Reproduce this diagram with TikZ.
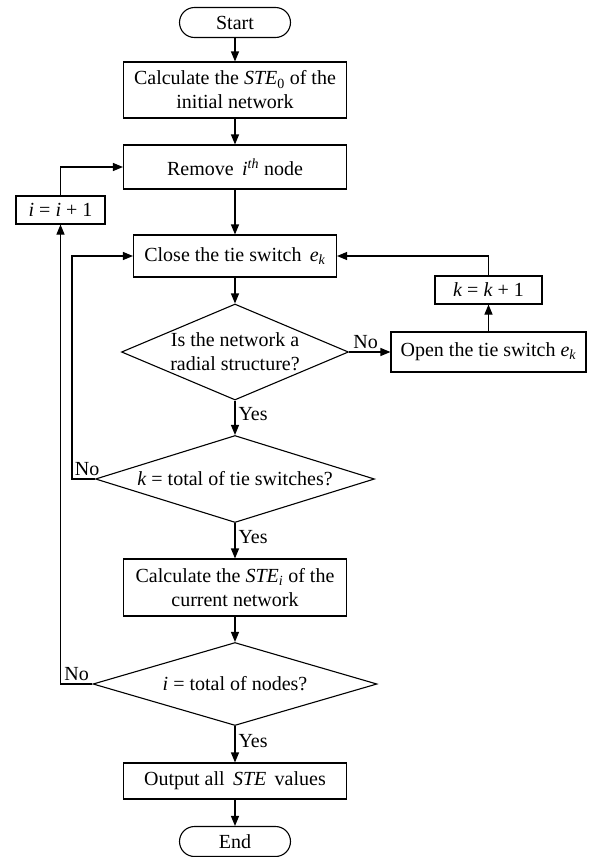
\documentclass[tikz,border=0pt]{standalone}
\usepackage{fontspec}
\setmainfont{Liberation Serif}
\usetikzlibrary{shapes.geometric,arrows.meta}

\tikzstyle{process}=[rectangle,draw,line width=1.1pt,align=center,inner sep=0pt]
\tikzstyle{terminal}=[rectangle,draw,line width=1.1pt,rounded corners=15pt,minimum width=111pt,minimum height=30pt,inner sep=0pt]
\tikzstyle{decision}=[diamond,draw,line width=1.1pt,align=center,inner sep=0pt]
\tikzstyle{flow}=[draw,line width=1.1pt,-{Triangle[length=10pt,width=8pt]}]
\tikzstyle{answer}=[inner sep=3pt]

\newcommand{\iv}[1]{\textit{#1}}

\begin{document}
\begin{tikzpicture}[x=1pt,y=-1pt,font=\fontsize{20}{24}\selectfont]
	\useasboundingbox (0,0) rectangle (590,857);
	%Main column
	\node[terminal] (start) at (235,22.5) {Start};
	\node[process,minimum width=223pt,minimum height=56pt] (calc0) at (235,90) {Calculate the \iv{STE}\textsubscript{0} of the\\initial network};
	\node[process,minimum width=223pt,minimum height=44pt] (remove) at (235,167) {Remove \,\iv{i}\textsuperscript{\iv{th}} node};
	\node[process,minimum width=203pt,minimum height=42pt] (close) at (235,256) {Close the tie switch \,\iv{e}\textsubscript{\iv{k}}};
	\node[decision,aspect=2.36,minimum width=227pt,minimum height=96pt] (radial) at (235,352) {Is the network a\\radial structure?};
	\node[decision,aspect=3.2,minimum width=279pt,minimum height=87pt] (ktotal) at (235,479) {\iv{k} = total of tie switches?};
	\node[process,minimum width=223pt,minimum height=57pt] (calci) at (235,587.5) {Calculate the \iv{STE}\textsubscript{\iv{i}} of the\\current network};
	\node[decision,aspect=3.42,minimum width=284pt,minimum height=83pt] (itotal) at (235,684) {\iv{i} = total of nodes?};
	\node[process,minimum width=223pt,minimum height=36pt] (output) at (235,781) {Output all \,\iv{STE}\, values};
	\node[terminal] (end) at (235,841.5) {End};
	%Side boxes
	\node[process,minimum width=89pt,minimum height=28pt] (inci) at (60.5,210) {\iv{i} = \iv{i} + 1};
	\node[process,minimum width=107pt,minimum height=28pt] (inck) at (488.5,290) {\iv{k} = \iv{k} + 1};
	\node[process,minimum width=195pt,minimum height=40pt] (open) at (488.5,352) {Open the tie switch \iv{e}\textsubscript{\iv{k}}};
	\coordinate (kloop) at (72,479);
	%Straight flow
	\foreach \from/\to in {start/calc0, calc0/remove, remove/close, close/radial, calci/itotal, output/end}
		\draw[flow] (\from) -- (\to);
	\draw[flow] (radial) -- node[answer,right,pos=0.4] (yesr) {Yes} (ktotal);
	\draw[flow] (ktotal) -- node[answer,right,pos=0.4] (yesk) {Yes} (calci);
	\draw[flow] (itotal) -- node[answer,right,pos=0.4] (yesi) {Yes} (output);
	%Loops
	\draw[flow] (radial.east) -- node[answer,above,pos=0.4] (nor) {No} (open.west);
	\draw[flow] (open) -- (inck);
	\draw[flow] (inck.north) |- (close.east);
	\draw[flow] (ktotal.west) node[answer,anchor=south east,xshift=8pt] (nok) {No} -- (kloop) |- (close.west);
	\draw[flow] (itotal.west) node[answer,anchor=south east] (noi) {No} -| (inci.south);
	\draw[flow] (inci.north) |- (remove.west);
\end{tikzpicture}
\end{document}
